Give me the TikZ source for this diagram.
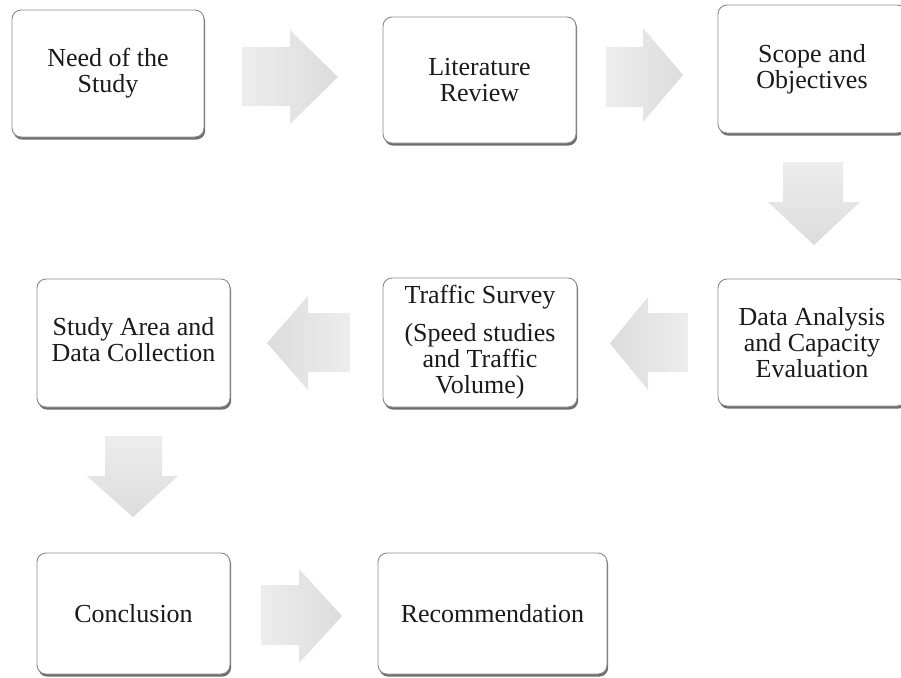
\documentclass[tikz,border=0pt]{standalone}
\usepackage{fontspec}
\setmainfont{Liberation Serif}
\usetikzlibrary{shadows}
\definecolor{boxline}{HTML}{8A8A8A}
\definecolor{boxshadow}{HTML}{6E6E6E}
\definecolor{arrowlight}{HTML}{EDEDED}
\definecolor{arrowdark}{HTML}{DCDCDC}
\definecolor{txt}{HTML}{1A1A1A}
\begin{document}
\begin{tikzpicture}[x=1pt,y=-1pt,
  stepbox/.style={draw=boxline, line width=0.9pt, fill=white, rounded corners=9pt,
    align=center, text=txt, inner sep=0pt,
    font=\fontsize{26}{26}\selectfont,
    drop shadow={shadow xshift=1.2pt, shadow yshift=-2.6pt, fill=boxshadow, opacity=1}},
  rarrowstyle/.style={left color=arrowlight, right color=arrowdark, draw=none},
  larrowstyle/.style={left color=arrowdark, right color=arrowlight, draw=none},
  darrowstyle/.style={top color=arrowlight, bottom color=arrowdark, draw=none}]
\useasboundingbox (0,0) rectangle (901,677);
\begin{scope}
\clip (0,0) rectangle (901,677);

% boxes
\node[stepbox, minimum width=192pt, minimum height=127pt] (need) at (108,73.5) {Need of the\\Study};
\node[stepbox, minimum width=193pt, minimum height=126pt] (lit) at (479.5,80) {Literature\\Review};
\node[stepbox, minimum width=188pt, minimum height=128pt] (scope) at (812,69) {Scope and\\Objectives};
\node[stepbox, minimum width=188pt, minimum height=127pt] (data) at (812,342.5) {Data Analysis\\and Capacity\\Evaluation};
\node[stepbox, minimum width=194pt, minimum height=129pt] (traffic) at (480,342.5) {Traffic Survey\\[12pt](Speed studies\\and Traffic\\Volume)};
\node[stepbox, minimum width=193pt, minimum height=128pt] (study) at (133.5,343) {Study Area and\\Data Collection\\[-18pt]\mbox{}};
\node[stepbox, minimum width=193pt, minimum height=121pt] (concl) at (133.5,613.5) {Conclusion};
\node[stepbox, minimum width=229pt, minimum height=121pt] (recom) at (492.5,613.5) {Recommendation};

% block arrows
% need -> lit
\path[rarrowstyle] (242,47) -- (290,47) -- (290,30) -- (338,77) -- (290,124) -- (290,106) -- (242,106) -- cycle;
% lit -> scope
\path[rarrowstyle] (606,47) -- (643,47) -- (643,28) -- (683,75) -- (643,122) -- (643,107) -- (606,107) -- cycle;
% scope -> data
\path[darrowstyle] (783,162) -- (843,162) -- (843,202) -- (860,202) -- (814,245) -- (768,202) -- (783,202) -- cycle;
% data -> traffic
\path[larrowstyle] (688,313) -- (648,313) -- (648,297) -- (610,343.5) -- (648,390) -- (648,372) -- (688,372) -- cycle;
% traffic -> study
\path[larrowstyle] (350,313) -- (308,313) -- (308,296) -- (267,343) -- (308,390) -- (308,372) -- (350,372) -- cycle;
% study -> concl
\path[darrowstyle] (105,436) -- (162,436) -- (162,476) -- (178,476) -- (133,517) -- (87,476) -- (105,476) -- cycle;
% concl -> recom
\path[rarrowstyle] (261,585) -- (299,585) -- (299,569) -- (342,616) -- (299,663) -- (299,645) -- (261,645) -- cycle;
\end{scope}
\end{tikzpicture}
\end{document}
